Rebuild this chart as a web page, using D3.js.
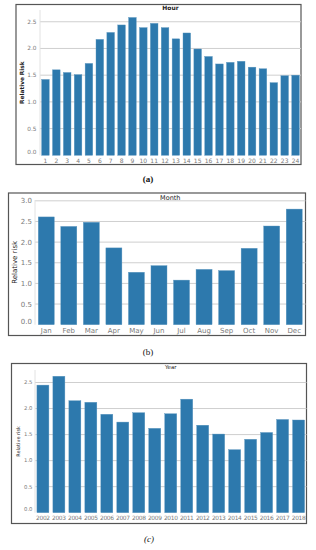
<!DOCTYPE html>
<html><head><meta charset="utf-8">
<script src="https://cdn.jsdelivr.net/npm/d3@7"></script>
<style>body{margin:0;background:#fff}svg{display:block}</style>
</head><body>
<svg id="c" width="316" height="550"></svg>
<script>
const hourCats = ["1","2","3","4","5","6","7","8","9","10","11","12","13","14","15","16","17","18","19","20","21","22","23","24"];
const hourVals = [1.42,1.60,1.55,1.51,1.72,2.17,2.30,2.44,2.58,2.39,2.47,2.39,2.18,2.29,1.99,1.85,1.71,1.74,1.76,1.65,1.62,1.36,1.49,1.50];
const monthCats = ["Jan","Feb","Mar","Apr","May","Jun","Jul","Aug","Sep","Oct","Nov","Dec"];
const monthVals = [2.61,2.38,2.48,1.86,1.27,1.43,1.08,1.34,1.31,1.85,2.39,2.80];
const yearCats = ["2002","2003","2004","2005","2006","2007","2008","2009","2010","2011","2012","2013","2014","2015","2016","2017","2018"];
const yearVals = [2.45,2.62,2.15,2.12,1.89,1.74,1.92,1.62,1.90,2.18,1.68,1.51,1.21,1.41,1.54,1.79,1.78];
const yTicks = [0,0.5,1.0,1.5,2.0,2.5,3.0];

const svg = d3.select("#c");
const barColor = "#2d79ad";

function panel(o){
  const g = svg.append("g");
  g.append("rect").attr("x",o.box[0]).attr("y",o.box[1])
    .attr("width",o.box[2]-o.box[0]).attr("height",o.box[3]-o.box[1])
    .attr("fill","none").attr("stroke","#555").attr("stroke-width",1.2);
  const x = d3.scaleBand().domain(o.cats).range([o.left,o.right])
    .paddingInner(o.pi).paddingOuter(o.po);
  const y = d3.scaleLinear().domain([0,o.ymax]).range([o.bottom,o.top]);
  const ticks = yTicks.filter(t=>t<=o.ymax+1e-9);
  g.append("g").selectAll("line").data(ticks.filter(t=>t>0)).join("line")
    .attr("x1",o.left).attr("x2",o.right)
    .attr("y1",d=>y(d)).attr("y2",d=>y(d))
    .attr("stroke","#cfcfcf").attr("stroke-width",1);
  g.append("line").attr("x1",o.left).attr("x2",o.left)
    .attr("y1",o.top).attr("y2",o.bottom).attr("stroke","#e2e2e2").attr("stroke-width",1);
  g.append("g").selectAll("rect").data(o.vals).join("rect")
    .attr("x",(d,i)=>x(o.cats[i])).attr("width",x.bandwidth())
    .attr("y",d=>y(d)).attr("height",d=>y(0)-y(d))
    .attr("fill",barColor).attr("stroke","#5b96bf").attr("stroke-width",0.4);
  g.append("g").selectAll("text").data(ticks).join("text")
    .attr("x",o.left-o.ylabOff).attr("y",d=>y(d)-(d===0?3.5:0))
    .attr("dy","0.35em").attr("text-anchor","end")
    .attr("font-family","DejaVu Sans, sans-serif").attr("font-size",o.fs)
    .attr("fill","#7a7a7a").text(d=>d.toFixed(1));
  g.append("g").selectAll("text").data(o.cats).join("text")
    .attr("x",d=>x(d)+x.bandwidth()/2).attr("y",o.xlabY)
    .attr("dy","0.35em").attr("text-anchor","middle")
    .attr("font-family","DejaVu Sans, sans-serif").attr("font-size",o.xfs)
    .attr("fill","#7a7a7a").attr("letter-spacing",o.ls||0).text(d=>d);
  g.append("text").attr("x",(o.left+o.right)/2).attr("y",o.titleY)
    .attr("dy","0.35em").attr("text-anchor","middle")
    .attr("font-family","DejaVu Sans, sans-serif").attr("font-size",o.tfs)
    .attr("fill","#222").attr("font-weight",o.tw||"normal").text(o.title);
  g.append("text").attr("transform",`translate(${o.ytX},${(o.top+o.bottom)/2}) rotate(-90)`)
    .attr("dy","0.35em").attr("text-anchor","middle")
    .attr("font-family","DejaVu Sans, sans-serif").attr("font-size",o.ytfs)
    .attr("fill","#222").attr("font-weight",o.tw||"normal").text(o.ytitle);
  svg.append("text").attr("x",o.capX).attr("y",o.capY).attr("dy","0.35em")
    .attr("text-anchor","middle").attr("font-family","Liberation Serif, serif")
    .attr("font-size",9).attr("font-weight",o.capW).attr("font-style",o.capS)
    .attr("fill","#111").text(o.cap);
}

panel({cats:hourCats, vals:hourVals, box:[16,4.5,301,164.5], left:40, right:301, top:10, bottom:155.3,
  ymax:2.72, pi:0.3, po:0.15, fs:5.8, xfs:6, xlabY:161, ylabOff:3.5, title:"Hour", titleY:8, tfs:6, tw:"600",
  ytitle:"Relative Risk", ytX:22, ytfs:5.8, cap:"(a)", capX:148, capY:179, capW:"bold", capS:"normal"});

panel({cats:monthCats, vals:monthVals, box:[8.5,193,305.5,335.5], left:35, right:305.5, top:200, bottom:324.7,
  ymax:3.02, pi:0.29, po:0.145, fs:7, xfs:7, xlabY:331, ylabOff:3, title:"Month", titleY:197.5, tfs:6.5,
  ytitle:"Relative risk", ytX:15, ytfs:7, cap:"(b)", capX:148, capY:352, capW:"normal", capS:"normal"});

panel({cats:yearCats, vals:yearVals, box:[11.5,363.5,306.5,523.5], left:35, right:306.5, top:370, bottom:512.7,
  ymax:2.74, pi:0.25, po:0.12, fs:5.3, xfs:5.9, xlabY:517.7, ylabOff:2.5, ls:-0.35, title:"Year", titleY:367.5, tfs:5.5,
  ytitle:"Relative risk", ytX:18, ytfs:5, cap:"(c)", capX:149, capY:539, capW:"normal", capS:"italic"});
</script>
</body></html>
